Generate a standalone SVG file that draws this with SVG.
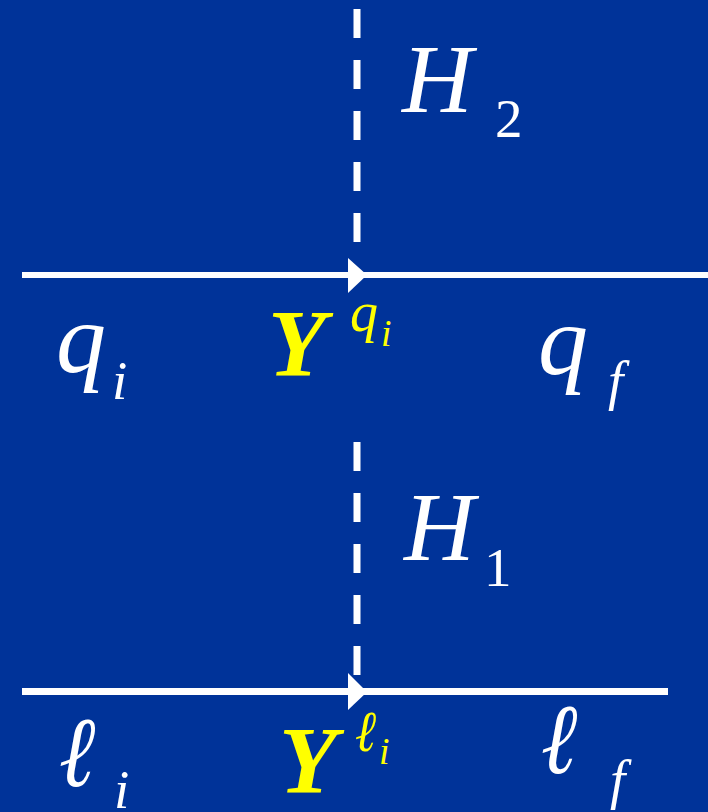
<svg xmlns="http://www.w3.org/2000/svg" width="708" height="812" viewBox="0 0 708 812">
<style>
.bg{fill:#003399}
.solid{stroke:#ffffff;fill:none}
.dash{stroke:#ffffff;stroke-width:7;stroke-dasharray:29 22;fill:none}
.head{fill:#ffffff}
.t{font-family:"Liberation Serif","Times New Roman",serif;fill:#ffffff}
.it{font-style:italic}
.y{fill:#ffff00}
.b{font-weight:bold}
</style>
<rect class="bg" x="0" y="0" width="708" height="812"/>
<g id="connectors">
  <line class="dash" x1="357" y1="9" x2="357" y2="243"/>
  <line class="dash" x1="357" y1="442" x2="357" y2="676"/>
  <line class="solid" x1="22" y1="275" x2="708" y2="275" stroke-width="6"/>
  <polygon class="head" points="348,258 367,275 348,293"/>
  <line class="solid" x1="22" y1="691.5" x2="668" y2="691.5" stroke-width="7"/>
  <polygon class="head" points="348,673 367,692 348,710"/>
</g>
<g id="H2">
  <text class="t it" x="402" y="112" font-size="98">H</text>
  <text class="t" x="495" y="137" font-size="55">2</text>
</g>
<g id="H1">
  <text class="t it" x="404" y="560" font-size="98">H</text>
  <text class="t" x="484" y="586" font-size="55">1</text>
</g>
<g id="qi">
  <text class="t it" x="56" y="372" font-size="100">q</text>
  <text class="t it" x="112" y="399" font-size="55">i</text>
</g>
<g id="Yqi">
  <text class="t it b y" x="268" y="376" font-size="95">Y</text>
  <text class="t it y" x="350" y="331" font-size="56">q</text>
  <text class="t it y" x="381" y="346" font-size="38">i</text>
</g>
<g id="qf">
  <text class="t it" x="538" y="374" font-size="100">q</text>
  <text class="t it" x="608" y="399" font-size="55">f</text>
</g>
<g id="li">
  <text class="t" transform="translate(52,786) scale(0.85,1) skewX(-12)" font-size="100">ℓ</text>
  <text class="t it" x="114" y="808" font-size="55">i</text>
</g>
<g id="Yli">
  <text class="t it b y" x="279" y="793" font-size="95">Y</text>
  <text class="t y" transform="translate(351,751) scale(0.85,1) skewX(-12)" font-size="58">ℓ</text>
  <text class="t it y" x="379" y="764" font-size="38">i</text>
</g>
<g id="lf">
  <text class="t" transform="translate(534,773) scale(0.85,1) skewX(-12)" font-size="100">ℓ</text>
  <text class="t it" x="610" y="798" font-size="55">f</text>
</g>
</svg>
